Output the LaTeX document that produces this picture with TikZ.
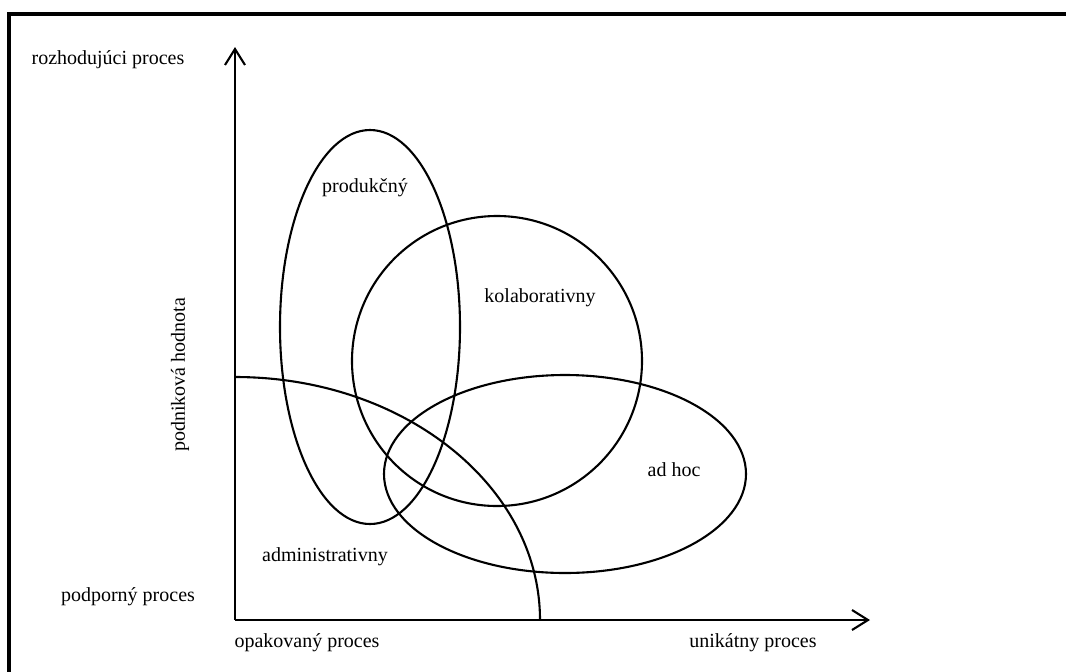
\documentclass[tikz,border=0pt]{standalone}
\usepackage{fontspec}
\setmainfont{Liberation Serif}
\usetikzlibrary{arrows.meta}

\begin{document}
\begin{tikzpicture}[x=0.5pt, y=-0.5pt, line width=1.05pt, font=\fontsize{10}{12}\selectfont]
            \clip (0,0) rectangle (1066,671);
            \draw [line width=1.6pt] (9,14) rectangle (1090,700);

            \coordinate (O) at (235,620);
            \coordinate (Ytop) at (235,47);
            \coordinate (Xend) at (870,620);
            \draw [-{Straight Barb[length=8pt, width=10pt]}] (O) -- (Ytop);
            \draw [-{Straight Barb[length=8pt, width=10pt]}] (O) -- (Xend);

            \node (rozh) at (108,60) {rozhodujúci proces};
            \node (podp) at (128,597) {podporný proces};
            \node (opak) at (307,643) {opakovaný proces};
            \node (unik) at (753,643) {unikátny proces};
            \node [rotate=90] (hodn) at (180,375) {podniková hodnota};

            \draw (370,327) ellipse [x radius=90, y radius=197];
            \draw (497,361) ellipse [x radius=145, y radius=145];
            \draw (565,474) ellipse [x radius=181, y radius=99];
            \draw (O) ++(305,0) arc [start angle=0, end angle=-90, x radius=305, y radius=243];

            \node (prod) at (365,188) {produkčný};
            \node (kolab) at (540,298) {kolaborativny};
            \node (adhoc) at (674,470) {ad hoc};
            \node (admin) at (325,557) {administrativny};
        \end{tikzpicture}
\end{document}
